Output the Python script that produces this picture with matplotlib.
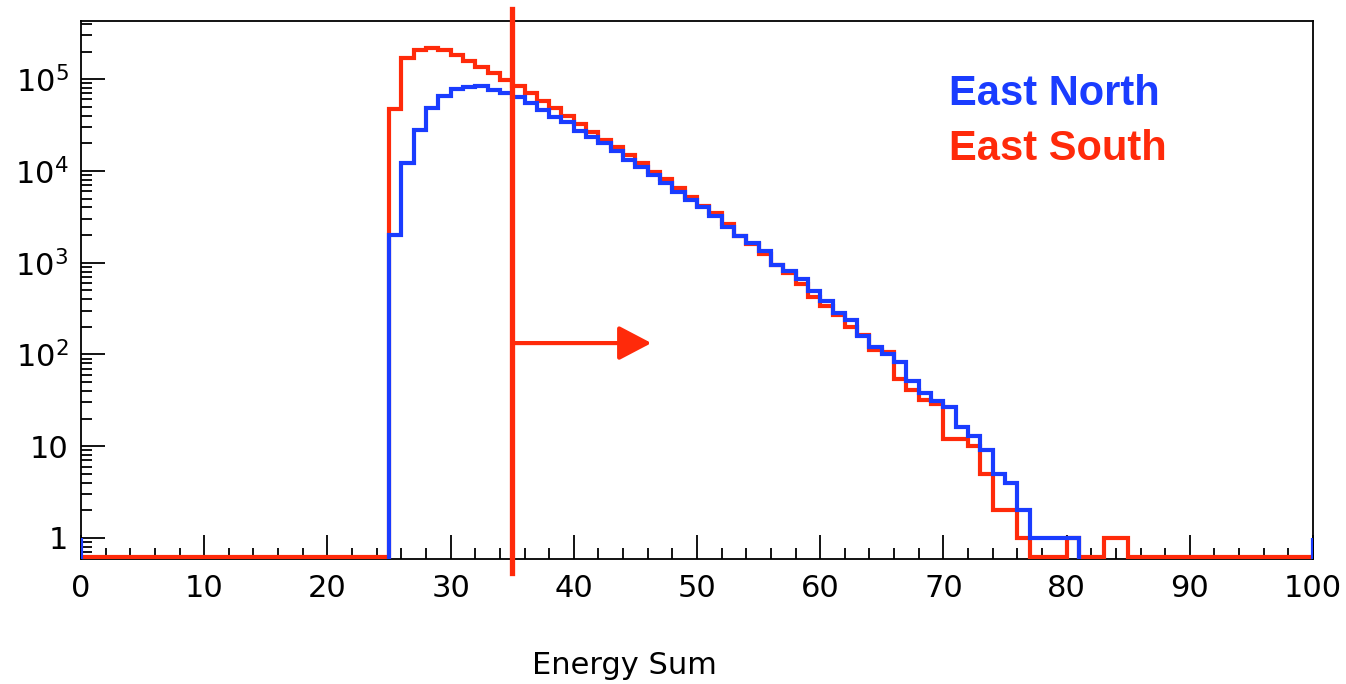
import numpy as np
import matplotlib
matplotlib.use("Agg")
import matplotlib.pyplot as plt
from matplotlib.ticker import FixedLocator, FuncFormatter, LogLocator, MultipleLocator

# energy sum histogram, 1 unit bins from 0 to 100
bin_edges = np.arange(0, 101)

# East North counts, bins 25..80 (all others empty)
north_first_bin = 25
north_counts = [2000, 12200, 27800, 49000, 65000, 79000, 83000, 85000, 76000, 70000,
                64000, 55000, 46000, 39000, 33700, 27400, 23200, 19900, 16400, 13300,
                11100, 9000, 7300, 5900, 4800, 4000, 3200, 2420, 1950, 1620,
                1340, 940, 816, 658, 495, 385, 281, 235, 158, 122,
                102, 83, 51, 38, 31, 27, 16, 13, 9, 5,
                4, 2, 1, 1, 1, 1]

# East South counts, bins 25..84
south_first_bin = 25
south_counts = [47000, 172000, 207000, 221000, 210000, 182000, 157000, 136000, 117000, 97600,
                84000, 70000, 58000, 48000, 39800, 32300, 26700, 21700, 18000, 14900,
                12100, 9800, 8070, 6440, 5200, 4140, 3440, 2630, 1950, 1600,
                1240, 940, 776, 585, 425, 337, 269, 200, 163, 112,
                106, 54, 41, 32, 29, 12, 12, 10, 5, 2,
                2, 1, 0, 0, 0, 1, 0, 0, 1, 1]

energy_cut = 35
arrow_end = 46.3
arrow_level = 133

blue = "#1a3cff"
red = "#ff2a0a"

y_low, y_high = 0.59, 4.3e5


def fill_bins(first, counts):
    h = np.zeros(len(bin_edges) - 1)
    h[first:first + len(counts)] = counts
    return h


north = fill_bins(north_first_bin, north_counts)
south = fill_bins(south_first_bin, south_counts)

# empty bins: south sits on the floor, north drops out below the frame
south_plot = np.where(south > 0, south, 0.62)
north_plot = np.where(north > 0, north, 0.3)

fig = plt.figure(figsize=(13.46, 6.84), dpi=100)
ax = fig.add_axes([81 / 1346, 1 - 559 / 684, (1313 - 81) / 1346, (559 - 21) / 684])

ax.stairs(south_plot, bin_edges, baseline=None, color=red, lw=3, zorder=3)
ax.stairs(north_plot, bin_edges, baseline=None, color=blue, lw=3, zorder=4)
ax.vlines([bin_edges[0], bin_edges[-1]], y_low, 1, color=blue, lw=3, zorder=4)

# energy threshold and selection arrow
ax.axvline(energy_cut, ymin=-0.026, ymax=1.022, clip_on=False, color=red, lw=3.8, zorder=5)
ax.annotate("", xy=(arrow_end, arrow_level), xytext=(energy_cut, arrow_level),
            arrowprops=dict(arrowstyle="-|>,head_length=2.0,head_width=1.05",
                            mutation_scale=10, color=red, lw=3,
                            shrinkA=0, shrinkB=0), zorder=5)

ax.set_yscale("log")
ax.set_xlim(0, 100)
ax.set_ylim(y_low, y_high)

ax.xaxis.set_major_locator(MultipleLocator(10))
ax.xaxis.set_minor_locator(MultipleLocator(2))
ax.yaxis.set_major_locator(FixedLocator([1, 10, 1e2, 1e3, 1e4, 1e5]))
ax.yaxis.set_minor_locator(LogLocator(base=10, subs=np.arange(2, 10)))


def ylabel_fmt(v, pos):
    k = int(round(np.log10(v)))
    if k == 0:
        return "1"
    if k == 1:
        return "10"
    return r"$\mathregular{10^{%d}}$" % k


ax.yaxis.set_major_formatter(FuncFormatter(ylabel_fmt))
ax.yaxis.set_minor_formatter(FuncFormatter(lambda v, p: ""))

ax.tick_params(which="both", direction="in", top=False, right=False,
               width=1.3, labelsize=22, colors="black")
ax.tick_params(axis="x", which="major", length=17, pad=11)
ax.tick_params(axis="x", which="minor", length=8)
ax.tick_params(axis="y", which="major", length=17, pad=9)
ax.tick_params(axis="y", which="minor", length=8)
for s in ax.spines.values():
    s.set_linewidth(1.3)

fig.text(624 / 1346, 1 - 665 / 684, "Energy Sum", ha="center", va="center", fontsize=22)

fig.text(949 / 1346, 1 - 105 / 684, "East North", color=blue, fontsize=30,
         fontweight="bold", family="Liberation Sans", va="baseline")
fig.text(949 / 1346, 1 - 160 / 684, "East South", color=red, fontsize=30,
         fontweight="bold", family="Liberation Sans", va="baseline")

fig.savefig("out.png", dpi=100)
